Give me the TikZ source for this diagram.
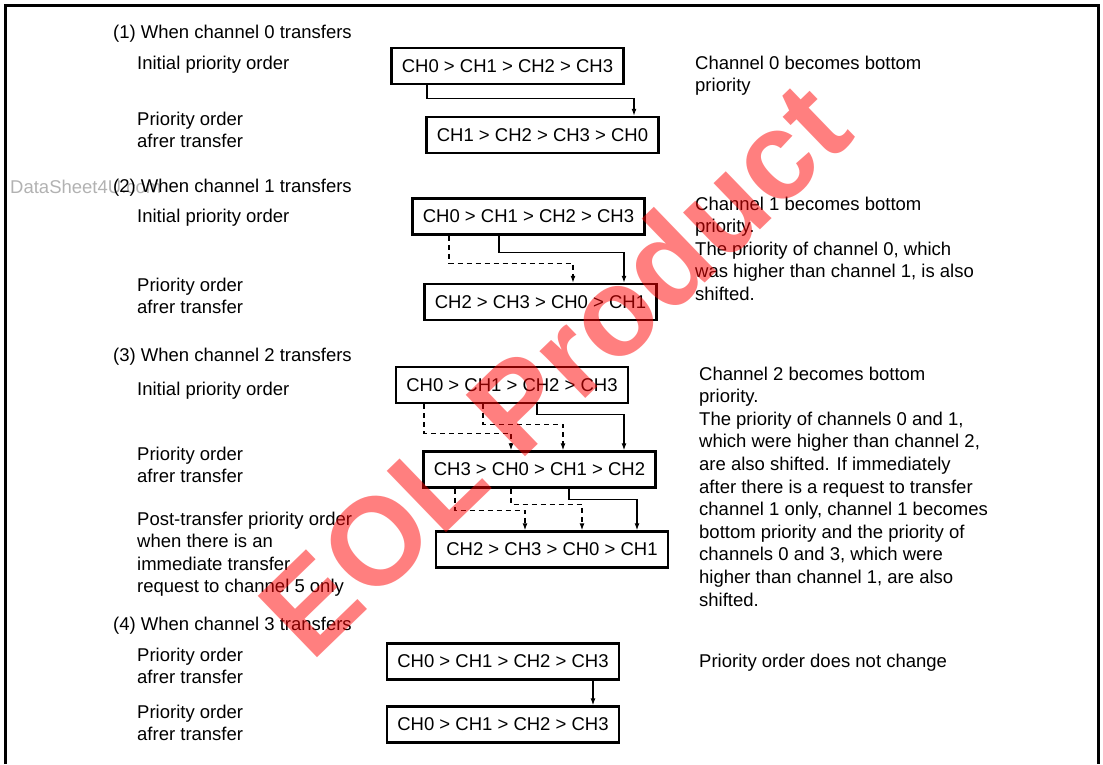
\documentclass[tikz,border=0pt]{standalone}
\usepackage{fontspec}
\setmainfont{Liberation Sans}
\usetikzlibrary{arrows.meta}
\usetikzlibrary{calc}

\begin{document}
\begin{tikzpicture}[x=1pt,y=-1pt]
\useasboundingbox (0,0) rectangle (1103,764);
\draw [line width=3pt] (5,764) -- (5,5) -- (1098,5) -- (1098,764);
\node [anchor=base west,inner sep=0pt,text=black!30,font=\fontsize{18.5}{22.6}\selectfont] (site) at (10,193) {DataSheet4U.com};
% multi-line texts sit on the baseline of their last line
\begin{scope}[every node/.style={anchor=base west,inner sep=0pt,align=left,font=\fontsize{18.5}{22.6}\selectfont}]
    \node (h1) at (113,38) {(1) When channel 0 transfers};
    \node (init1lbl) at (137,69) {Initial priority order};
    \node (after1lbl) at (137,147.6) {Priority order\\afrer transfer};
    \node (h2) at (113,192) {(2) When channel 1 transfers};
    \node (init2lbl) at (137,222) {Initial priority order};
    \node (after2lbl) at (137,313.6) {Priority order\\afrer transfer};
    \node (h3) at (113,361) {(3) When channel 2 transfers};
    \node (init3lbl) at (137,395) {Initial priority order};
    \node (after3lbl) at (137,482.6) {Priority order\\afrer transfer};
    \node (post3lbl) at (137,592.8) {Post-transfer priority order\\when there is an\\immediate transfer\\request to channel 5 only};
    \node (h4) at (113,630) {(4) When channel 3 transfers};
    \node (init4lbl) at (137,683.6) {Priority order\\afrer transfer};
    \node (after4lbl) at (137,740.6) {Priority order\\afrer transfer};
    \node (note1) at (695,91.6) {Channel 0 becomes bottom\\priority};
    \node (note2) at (695,300.4) {Channel 1 becomes bottom\\priority.\\The priority of channel 0, which\\was higher than channel 1, is also\\shifted.};
    \node (note3) at (699,606) {Channel 2 becomes bottom\\priority.\\The priority of channels 0 and 1,\\which were higher than channel 2,\\are also shifted. If immediately\\after there is a request to transfer\\channel 1 only, channel 1 becomes\\bottom priority and the priority of\\channels 0 and 3, which were\\higher than channel 1, are also\\shifted.};
    \node (note4) at (699,667) {Priority order does not change};
\end{scope}
\begin{scope}[every node/.style={draw,line width=2.5pt,minimum width=232pt,minimum height=36pt,inner sep=0pt,font=\fontsize{18.5}{22.6}\selectfont}]
    \node (init1) at (507.5,66) {CH0 > CH1 > CH2 > CH3};
    \node (after1) at (542.5,135) {CH1 > CH2 > CH3 > CH0};
    \node (init2) at (528.5,216.5) {CH0 > CH1 > CH2 > CH3};
    \node (after2) at (540.5,302) {CH2 > CH3 > CH0 > CH1};
    \node (init3) at (512,385) {CH0 > CH1 > CH2 > CH3};
    \node (after3) at (539.5,469.5) {CH3 > CH0 > CH1 > CH2};
    \node (post3) at (552,549.5) {CH2 > CH3 > CH0 > CH1};
    \node (init4) at (503,661.5) {CH0 > CH1 > CH2 > CH3};
    \node (after4) at (503,724.5) {CH0 > CH1 > CH2 > CH3};
\end{scope}
\begin{scope}[>={Latex[length=7pt,width=5pt]},
              solid_edge/.style={draw=black,line width=1.2pt},
              dashed_edge/.style={draw=black,line width=1.2pt,dash pattern=on 5pt off 4pt}]
    \draw [->,solid_edge] ($(init1.south)+(-80.5,0)$) -- ++(0,13) -| ($(after1.north)+(91.5,0)$);
    \draw [->,dashed_edge] ($(init2.south)+(-79.5,0)$) -- ++(0,27.5) -| ($(after2.north)+(32.5,0)$);
    \draw [->,solid_edge] ($(init2.south)+(-29.5,0)$) -- ++(0,16.5) -| ($(after2.north)+(83.5,0)$);
    \draw [->,dashed_edge] ($(init3.south)+(-88,0)$) -- ++(0,29) -| ($(after3.north)+(-28.5,0)$);
    \draw [->,dashed_edge] ($(init3.south)+(-29,0)$) -- ++(0,20) -| ($(after3.north)+(23.5,0)$);
    \draw [->,solid_edge] ($(init3.south)+(25,0)$) -- ++(0,10) -| ($(after3.north)+(84.5,0)$);
    \draw [->,dashed_edge] ($(after3.south)+(-84.5,0)$) -- ++(0,21.5) -| ($(post3.north)+(-27,0)$);
    \draw [->,dashed_edge] ($(after3.south)+(-28.5,0)$) -- ++(0,15.5) -| ($(post3.north)+(30,0)$);
    \draw [->,solid_edge] ($(after3.south)+(29.5,0)$) -- ++(0,10.5) -| ($(post3.north)+(85,0)$);
    \draw [->,solid_edge] ($(init4.south)+(90,0)$) -- ($(after4.north)+(90,0)$);
\end{scope}
\node [rotate=44,text=red,text opacity=0.5,font=\fontsize{124}{124}\bfseries\selectfont] (eol) at (553.5,368) {EOL Product};
\end{tikzpicture}
\end{document}
